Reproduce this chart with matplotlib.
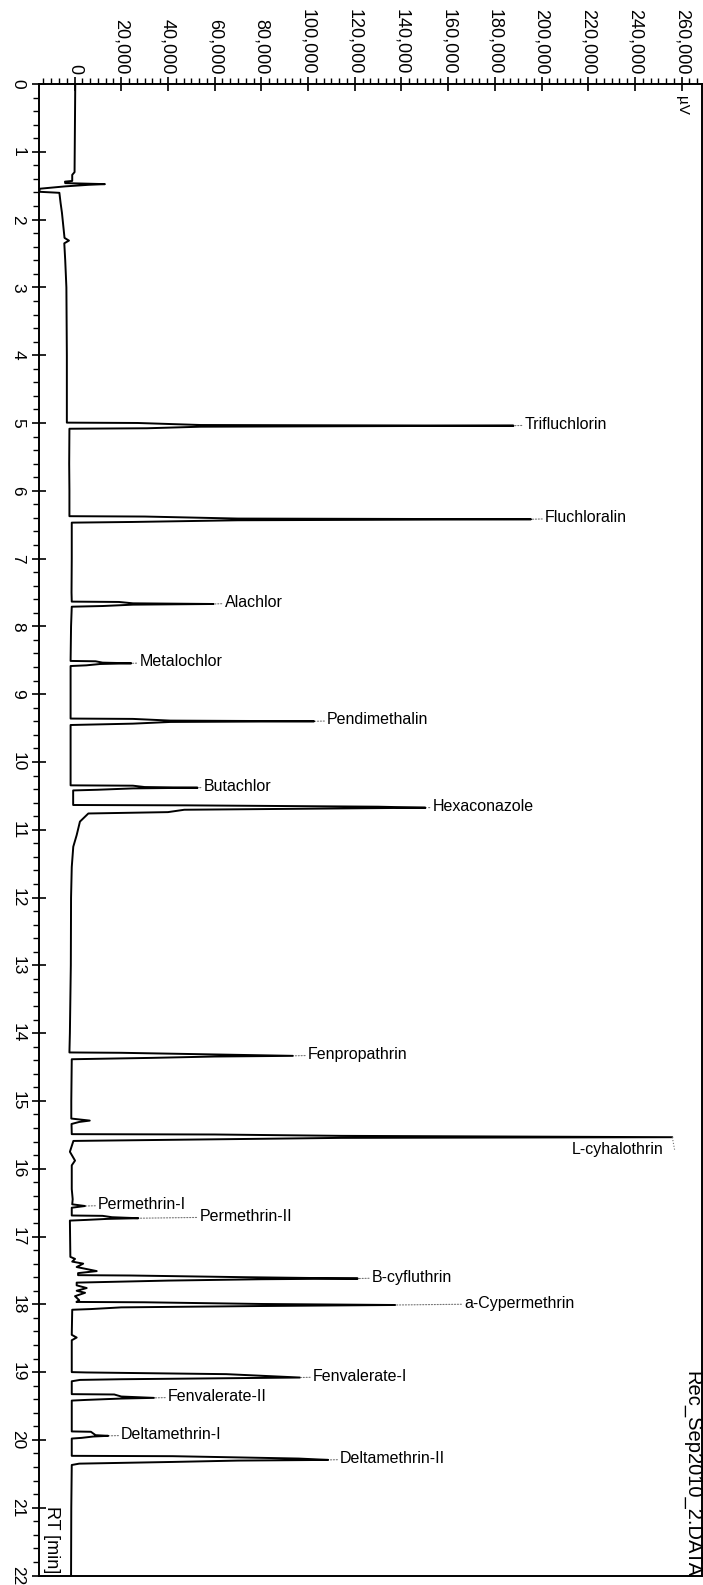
import matplotlib
matplotlib.use("Agg")
import matplotlib.pyplot as plt
from matplotlib.ticker import MultipleLocator, FuncFormatter

plt.rcParams["font.family"] = ["Liberation Sans", "DejaVu Sans"]

# ---- identified compounds: retention time [min] and apex signal [uV] ----
compounds = [
    "Trifluchlorin", "Fluchloralin", "Alachlor", "Metalochlor", "Pendimethalin",
    "Butachlor", "Hexaconazole", "Fenpropathrin", "L-cyhalothrin", "Permethrin-I",
    "Permethrin-II", "B-cyfluthrin", "a-Cypermethrin", "Fenvalerate-I",
    "Fenvalerate-II", "Deltamethrin-I", "Deltamethrin-II",
]
peak_rt = [5.040, 6.420, 7.670, 8.545, 9.400, 10.380, 10.675, 14.335, 15.535,
           16.550, 16.730, 17.620, 18.010, 19.080, 19.380, 19.940, 20.295]
peak_uv = [188000, 195500, 59500, 24300, 102600, 52700, 150300, 93500, 256000,
           4500, 27300, 121300, 137300, 96500, 34000, 14400, 108600]

# ---- detector trace (retention time [min], signal [uV]) ----
trace_rt = [
    0.00, 0.50, 1.00, 1.30, 1.34, 1.43, 1.44, 1.462, 1.477, 1.487, 1.51, 1.545,
    1.59, 1.605, 1.75, 1.90, 2.10, 2.27, 2.31, 2.35, 2.60, 3.00, 4.00, 4.995,
    # Trifluchlorin
    5.000, 5.030, 5.040, 5.055, 5.078, 5.085, 5.60, 6.00, 6.375,
    # Fluchloralin
    6.380, 6.410, 6.420, 6.435, 6.460, 6.470, 7.00, 7.50, 7.635,
    # Alachlor
    7.640, 7.660, 7.670, 7.680, 7.700, 7.710, 8.00, 8.510,
    # Metalochlor
    8.515, 8.535, 8.545, 8.555, 8.575, 8.585, 9.360,
    # Pendimethalin
    9.365, 9.390, 9.400, 9.410, 9.435, 9.455, 10.345,
    # Butachlor
    10.350, 10.370, 10.380, 10.390, 10.410, 10.420, 10.635,
    # Hexaconazole and its tail
    10.640, 10.660, 10.675, 10.690, 10.705, 10.740, 10.760, 10.880, 11.080,
    11.250, 11.550, 12.00, 13.00, 14.00, 14.285,
    # Fenpropathrin
    14.290, 14.310, 14.335, 14.345, 14.365, 14.385, 15.00, 15.26, 15.29, 15.31,
    15.34, 15.490,
    # L-cyhalothrin
    15.495, 15.515, 15.535, 15.545, 15.560, 15.580, 15.590, 15.75, 15.88, 15.95,
    16.30, 16.45, 16.525,
    # Permethrin-I / Permethrin-II
    16.550, 16.575, 16.690,
    16.695, 16.715, 16.730, 16.740, 16.755, 16.765, 17.30, 17.33, 17.37, 17.40,
    17.45, 17.51, 17.54, 17.570,
    # B-cyfluthrin
    17.575, 17.600, 17.620, 17.630, 17.650, 17.680, 17.72, 17.76, 17.80, 17.83,
    17.88, 17.94, 17.965,
    # a-Cypermethrin
    17.970, 17.995, 18.010, 18.025, 18.045, 18.070, 18.080, 18.45, 18.49, 18.53,
    19.000,
    # Fenvalerate-I
    19.005, 19.030, 19.080, 19.090, 19.105, 19.115, 19.135, 19.325,
    # Fenvalerate-II
    19.330, 19.360, 19.380, 19.390, 19.410, 19.420, 19.875,
    # Deltamethrin-I
    19.880, 19.930, 19.940, 19.950, 19.970, 19.980, 20.235,
    # Deltamethrin-II
    20.240, 20.275, 20.295, 20.305, 20.325, 20.350, 20.370, 21.00, 22.00,
]
trace_uv = [
    300, 200, 100, 0, -1000, -1000, -4100, -4000, 13000, 6000, -4000, -15000,
    -15000, -6500, -6000, -5400, -4800, -4300, -2400, -4400, -4000, -3500, -3300, -3300,
    27000, 54000, 188000, 54000, 31000, -2200, -2300, -2200, -2200,
    30000, 70000, 195500, 70000, 25000, -1200, -1200, -1300, -1200,
    19000, 25000, 59500, 25000, 12000, -1200, -1500, -1700,
    9000, 12000, 24300, 11000, 5000, -1700, -1700,
    25000, 41000, 102600, 41000, 25000, -1700, -1700,
    25000, 30000, 52700, 25000, 10000, -600, -600,
    48000, 130000, 150300, 100000, 47000, 40000, 5900, 2300, 900,
    -550, -1200, -1500, -1600, -2000, -2200,
    20000, 52000, 93500, 60000, 33000, -1200, -1400, -1400, 6500, 2000,
    -1300, -1200,
    60000, 114000, 256000, 114000, 75000, 20000, -500, -2000, 200, -1200,
    -1200, -800, -1000,
    4500, -1200, -1200,
    12000, 16000, 27300, 14000, 5000, -2000, -1800, 200, -1000, 3700,
    900, 9500, 1500, 1500,
    24000, 73000, 121300, 80000, 40000, 900, 900, 5200, 900, 4500,
    200, 2000, 800,
    30000, 80000, 137300, 80000, 20000, 7000, -1000, -1200, 900, -1200,
    -1200,
    5000, 65000, 96500, 65000, 20000, 2300, -1200, -1200,
    17000, 20000, 34000, 20000, 5000, -1200, -1200,
    7000, 9000, 14400, 8000, 3000, -1200, -1200,
    42000, 96000, 108600, 70000, 42000, 2000, -1200, -1400, -1500,
]

# distance (pixels) from each apex to the start of its label
label_gap_px = [11, 14, 11, 8, 13, 6, 7, 15, 0, 13, 61, 14, 69, 13, 14, 13, 12]

W, H = 703, 1585
fig = plt.figure(figsize=(W / 100, H / 100), dpi=100)
x0, x1, y0, y1 = 39.3, 701.5, 84.0, 1575.5
ax = fig.add_axes([x0 / W, (H - y1) / H, (x1 - x0) / W, (y1 - y0) / H])

ax.plot(trace_uv, trace_rt, color="black", lw=1.4, solid_joinstyle="round")

ax.set_xlim(-15100, 268500)
ax.set_ylim(22, 0)

ax.xaxis.tick_top()
ax.xaxis.set_major_locator(MultipleLocator(20000))
ax.xaxis.set_minor_locator(MultipleLocator(20000 / 6))
ax.xaxis.set_major_formatter(FuncFormatter(lambda v, p: f"{v:,.0f}"))
ax.yaxis.set_major_locator(MultipleLocator(1))
ax.yaxis.set_minor_locator(MultipleLocator(0.2))
ax.yaxis.set_major_formatter(FuncFormatter(lambda v, p: f"{v:.0f}"))

ax.tick_params(which="major", direction="inout", length=10, width=1.2, color="black")
ax.tick_params(which="minor", direction="out", length=4, width=1.0, color="black")
ax.tick_params(axis="x", which="major", labelsize=13, pad=2, labelrotation=-90)
ax.tick_params(axis="y", which="major", labelsize=12.5, pad=5, labelrotation=-90)
plt.setp(ax.get_yticklabels(), va="center", ha="right")
plt.setp(ax.get_xticklabels(), va="bottom", ha="center")

for sp in ax.spines.values():
    sp.set_linewidth(1.4)

leader = dict(arrowstyle="-", linestyle=(0, (1, 1.6)), color="0.45", lw=0.8,
              shrinkA=0, shrinkB=1)
for name, rt, uv, gap in zip(compounds, peak_rt, peak_uv, label_gap_px):
    if name == "L-cyhalothrin":
        # label sits below the apex, joined by a short vertical leader
        ax.plot([uv, uv + 1000], [rt, rt + 0.19], color="0.45", lw=0.8,
                linestyle=(0, (1, 1.6)))
        ax.annotate(name, xy=(uv, rt), xytext=(-6.5, -8.5), textcoords="offset points",
                    ha="right", va="center", fontsize=11.5)
        continue
    ax.annotate(name, xy=(uv, rt), xytext=(gap * 0.72, 1), textcoords="offset points",
                ha="left", va="center", fontsize=11.5, arrowprops=leader)

ax.text(260000, 0.32, "µV", rotation=-90, ha="center", va="center", fontsize=11)
ax.text(-9700, 21.47, "RT [min]", rotation=-90, ha="center", va="center", fontsize=13)
ax.text(264200, 20.50, "Rec_Sep2010_2.DATA", rotation=-90, ha="center",
        va="center", fontsize=14.5)

fig.savefig("out.png", dpi=100)
